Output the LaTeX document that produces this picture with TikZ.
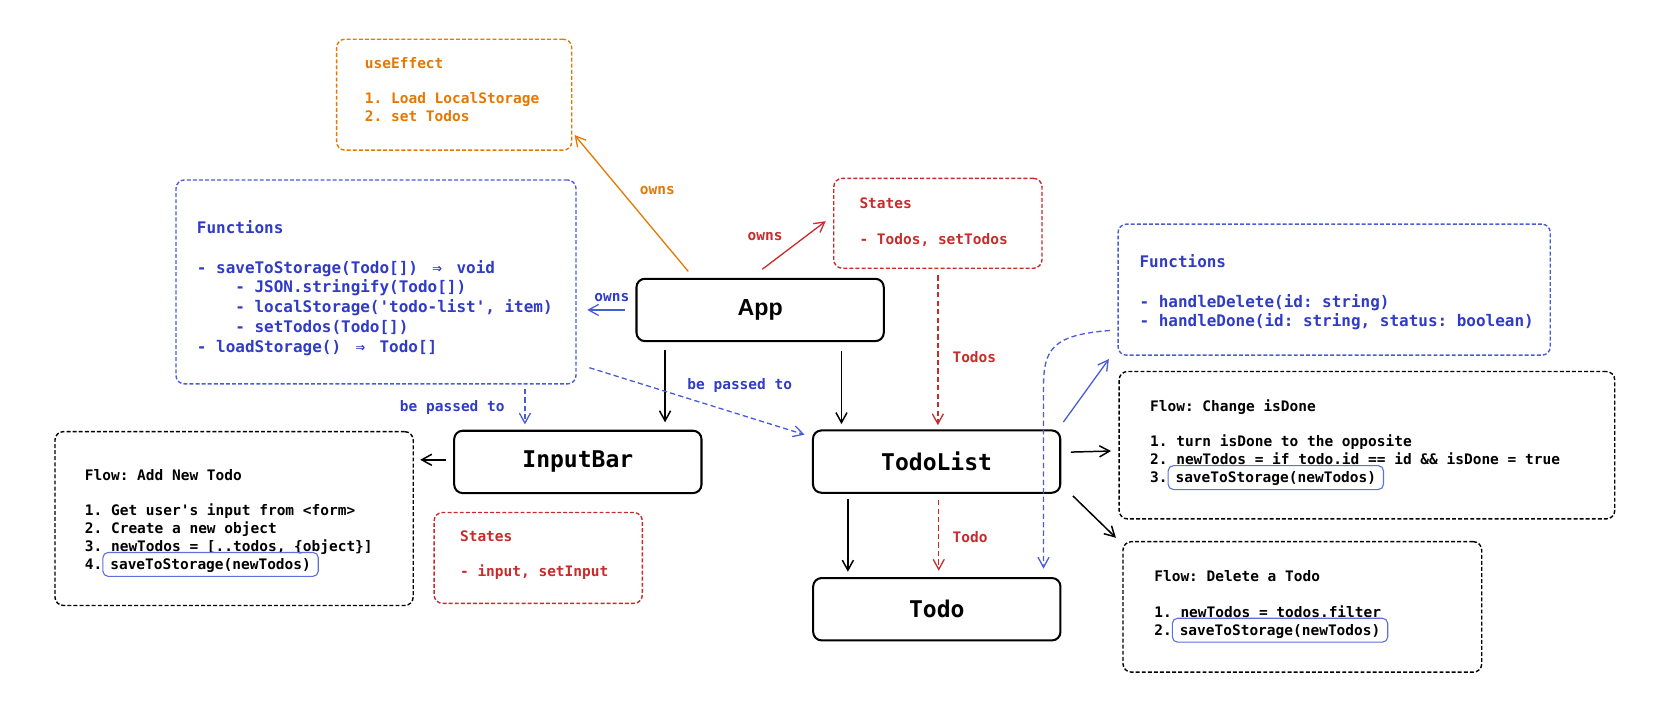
\documentclass[tikz,border=0pt]{standalone}
\usepackage{fontspec}
\usetikzlibrary{arrows.meta,calc}
\newfontfamily\codefont{DejaVu Sans Mono}
\newfontfamily\appfont{Liberation Sans}
\definecolor{orangeC}{RGB}{230,119,0}
\definecolor{redC}{RGB}{201,42,42}
\definecolor{blueT}{RGB}{48,60,196}
\definecolor{blueL}{RGB}{72,92,216}
\definecolor{blueH}{RGB}{92,112,222}
\newcommand{\smallcode}{\codefont\bfseries\frenchspacing\fontsize{7.8}{9.6}\selectfont}
\newcommand{\fncode}{\codefont\bfseries\frenchspacing\fontsize{8.6}{10.6}\selectfont}
\newcommand{\ind}{\phantom{xxxx}}
\newcommand{\toarrow}{\setbox0\hbox{xx}\makebox[\wd0]{⇒}}
\newcommand{\hlsave}[1]{\smash{\tikz[baseline=(h.base)] \node (h) [draw=blueH, line width=0.6pt, rounded corners=1mm, inner xsep=1.4mm, inner ysep=0.75mm, outer sep=0pt] {#1};}}

\begin{document}
\begin{tikzpicture}[x=0.2mm, y=-0.2mm,
  comp/.style={draw, line width=1.1pt, rounded corners=1.6mm, minimum width=46.8mm, minimum height=11.8mm, font=\codefont\bfseries\fontsize{12.4}{14}\selectfont},
  dbox/.style={draw=#1, line width=0.75pt, rounded corners=1.6mm, dash pattern=on 0.75mm off 0.4mm},
  txt/.style={anchor=north west, align=left, inner sep=0pt, text=#1, font=\smallcode, execute at begin node={\rule{0pt}{7pt}}},
  lbl/.style={inner sep=0pt, text=#1, font=\smallcode},
  arr/.style={-{Straight Barb[length=1.9mm,width=2.1mm]}, line width=0.8pt},
  darr/.style={arr, line width=0.7pt, dash pattern=on 1mm off 0.6mm, draw=#1}]
%[inner sep=1mm]
\useasboundingbox (0,0) rectangle (1568,688);

\path (719.3,293.3) node (App) [comp, font=\appfont\bfseries\fontsize{12.5}{14}\selectfont] {App};
\path (546.8,437.1) node (InputBar) [comp] {InputBar};
\path (886.3,436.8) node (TodoList) [comp] {TodoList};
\path (886.5,576.5) node (Todo) [comp] {Todo};

\path (429.8,89.6) node (Effect) [dbox=orangeC, minimum width=44.5mm, minimum height=21mm] {};
\path (355.8,266.8) node (FnL) [dbox=blueL, minimum width=75.7mm, minimum height=38.6mm] {};
\path (887.5,211.3) node (StA) [dbox=redC, minimum width=39.4mm, minimum height=17mm] {};
\path (1262.5,274.1) node (FnR) [dbox=blueL, minimum width=81.8mm, minimum height=24.8mm] {};
\path (1293.5,421.3) node (FlowDone) [dbox=black, minimum width=93.8mm, minimum height=27.9mm] {};
\path (1232.4,574.3) node (FlowDel) [dbox=black, minimum width=67.9mm, minimum height=24.7mm] {};
\path (221.5,490.7) node (FlowAdd) [dbox=black, minimum width=67.8mm, minimum height=32.9mm] {};
\path (509.3,528) node (StB) [dbox=redC, minimum width=39.4mm, minimum height=17.2mm] {};

\path (345,53.7) node (EffectTxt) [txt=orangeC] {useEffect\\[9.6pt]1. Load LocalStorage\\2. set Todos};
\path (186,208.7) node (FnLTxt) [txt=blueT, font=\fncode] {Functions\\[10.6pt]- saveToStorage(Todo[]) \toarrow{} void\\\ind- JSON.stringify(Todo[])\\\ind- localStorage(\textquotesingle todo-list\textquotesingle, item)\\\ind- setTodos(Todo[])\\- loadStorage() \toarrow{} Todo[]};
\path (813,186.7) node (StATxt) [txt=redC] {States\\[9.6pt]- Todos, setTodos};
\path (1078,240.7) node (FnRTxt) [txt=blueT, font=\fncode] {Functions\\[10.6pt]- handleDelete(id: string)\\- handleDone(id: string, status: boolean)};
\path (80,443.7) node (FlowAddTxt) [txt=black] {Flow: Add New Todo\\[9.6pt]1. Get user\textquotesingle s input from <form>\\2. Create a new object\\3. newTodos = [..todos, \{object\}]\\4.\hlsave{saveToStorage(newTodos)}};
\path (435,501.7) node (StBTxt) [txt=redC] {States\\[9.6pt]- input, setInput};
\path (1088,377.7) node (FlowDoneTxt) [txt=black] {Flow: Change isDone\\[9.6pt]1. turn isDone to the opposite\\2. newTodos = if todo.id == id \&\& isDone = true\\3.\hlsave{saveToStorage(newTodos)}};
\path (1092,539.7) node (FlowDelTxt) [txt=black] {Flow: Delete a Todo\\[9.6pt]1. newTodos = todos.filter\\2.\hlsave{saveToStorage(newTodos)}};

\path (622,180) node (ownsEffect) [lbl=orangeC] {owns};
\path (724,224) node (ownsState) [lbl=redC] {owns};
\path (579,282) node (ownsFn) [lbl=blueT] {owns};
\path (700,365) node (passList) [lbl=blueT] {be passed to};
\path (428,386) node (passBar) [lbl=blueT] {be passed to};
\path (922,338) node (todosLbl) [lbl=redC] {Todos};
\path (918,508) node (todoLbl) [lbl=redC] {Todo};

\draw [arr, orangeC, line width=0.7pt] ($(App.north)+(-68,-6)$) to ($(Effect.south east)+(2,-15)$);
\draw [arr, redC, line width=0.7pt] ($(App.north)+(2,-8)$) to ($(StA.west)+(-7,-2)$);
\draw [arr, blueL, line width=0.7pt] ($(App.west)+(-10,0)$) to ($(FnL.east |- App.west)+(10,0)$);
\draw [arr] ($(App.south west)+(28,7)$) to ($(App.south west |- InputBar.north)+(28,-7)$);
\draw [arr] ($(App.south east)+(-41,8)$) to ($(App.south east |- TodoList.north)+(-41,-5)$);
\draw [darr=redC] ($(StA.south)+(0,6)$) to ($(StA.south |- TodoList.north)+(0,-4)$);
\draw [darr=blueL] ($(FnL.south east)+(12,-16)$) to ($(TodoList.north west)+(-7,5)$);
\draw [darr=blueL] ($(FnL.south east)+(-49,4)$) to ($(FnL.south east |- InputBar.north)+(-49,-5)$);
\draw [arr] ($(InputBar.west)+(-7,-2)$) to ($(FlowAdd.east |- InputBar.west)+(6,-2)$);
\draw [arr] ($(TodoList.south west)+(34,5)$) to ($(TodoList.south west |- Todo.north)+(34,-5)$);
\draw [darr=redC] ($(TodoList.south)+(2,6)$) to ($(TodoList.south |- Todo.north)+(2,-6)$);
\draw [darr=blueL] ($(FnR.south west)+(-7,-24)$) .. controls +(-55,4) and +(0,-35) .. ($(Todo.north east)+(-17,-180)$) -- ($(Todo.north east)+(-17,-8)$);
\draw [arr, blueL, line width=0.7pt] ($(TodoList.north east)+(2,-7)$) to ($(FnR.south west)+(-8,3)$);
\draw [arr] ($(TodoList.east)+(9,-9)$) to ($(FlowDone.west |- TodoList.east)+(-7,-10)$);
\draw [arr] ($(TodoList.south east)+(11,2)$) to ($(FlowDel.north west)+(-6,-3)$);

\end{tikzpicture}
\end{document}
